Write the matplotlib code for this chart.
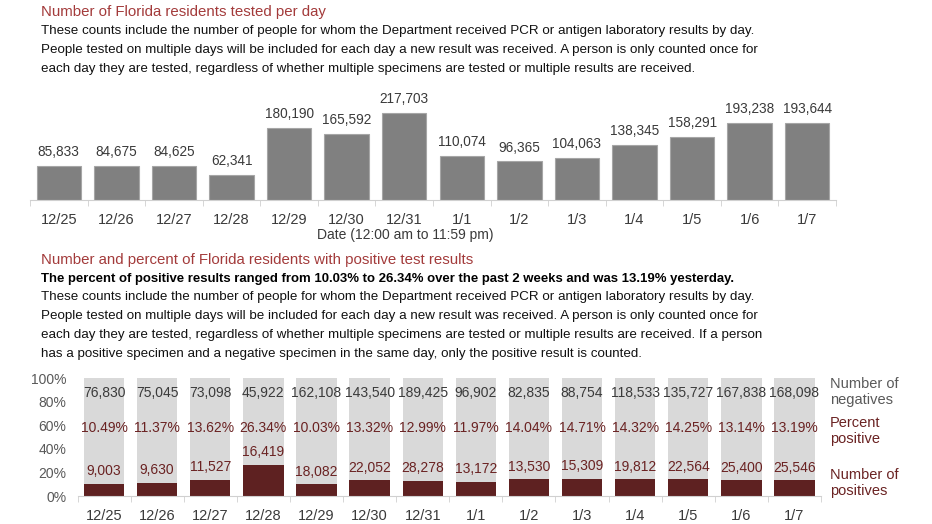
import numpy as np
import matplotlib
matplotlib.use('Agg')
import matplotlib.pyplot as plt

plt.rcParams['font.family'] = ['Liberation Sans Narrow', 'Liberation Sans', 'DejaVu Sans']

dates = ['12/25', '12/26', '12/27', '12/28', '12/29', '12/30', '12/31',
         '1/1', '1/2', '1/3', '1/4', '1/5', '1/6', '1/7']
tested = [85833, 84675, 84625, 62341, 180190, 165592, 217703,
          110074, 96365, 104063, 138345, 158291, 193238, 193644]
negatives = [76830, 75045, 73098, 45922, 162108, 143540, 189425,
             96902, 82835, 88754, 118533, 135727, 167838, 168098]
positives = [9003, 9630, 11527, 16419, 18082, 22052, 28278,
             13172, 13530, 15309, 19812, 22564, 25400, 25546]
pct_positive = [10.49, 11.37, 13.62, 26.34, 10.03, 13.32, 12.99,
                11.97, 14.04, 14.71, 14.32, 14.25, 13.14, 13.19]

W, H = 932, 524
RED_TITLE = '#A33B3B'
DARK_RED = '#5E2121'
LABEL_RED = '#6A2222'
GRAY_TXT = '#3A3A3A'

def fx(x):
    return x / W

def fy(y):
    return 1 - y / H

fig = plt.figure(figsize=(W / 100, H / 100), dpi=100)

body_font = ['Liberation Sans', 'DejaVu Sans']

# ---- top text block
fig.text(fx(41), fy(12), 'Number of Florida residents tested per day', color=RED_TITLE,
         fontsize=10.8, family=body_font, va='center')
top_lines = [
    'These counts include the number of people for whom the Department received PCR or antigen laboratory results by day.',
    'People tested on multiple days will be included for each day a new result was received. A person is only counted once for',
    'each day they are tested, regardless of whether multiple specimens are tested or multiple results are received.',
]
for i, line in enumerate(top_lines):
    fig.text(fx(41), fy(31 + 19 * i), line, fontsize=9.6, family=body_font, va='center', color='#111111')

# ---- top chart
x = np.arange(len(dates))
ax1 = fig.add_axes([fx(30), fy(200), fx(836) - fx(30), (200 - 96) / H])
ax1.bar(x, tested, width=0.77, color='#808080', edgecolor='#A6A6A6', linewidth=0.8)
for xi, v in zip(x, tested):
    ax1.annotate(f'{v:,}', (xi, v), xytext=(0, 5), textcoords='offset points',
                 ha='center', va='bottom', fontsize=9.8, color=GRAY_TXT)
ax1.set_xlim(-0.5, len(dates) - 0.5)
ax1.set_ylim(0, 260000)
ax1.set_yticks([])
for s in ['top', 'right', 'left']:
    ax1.spines[s].set_visible(False)
ax1.spines['bottom'].set_color('#D0D0D0')
ax1.set_xticks(x)
ax1.set_xticklabels(dates, fontsize=10.5, color=GRAY_TXT)
ax1.tick_params(axis='x', length=0, pad=9)
ax1.set_xticks(np.arange(-0.5, len(dates)), minor=True)
ax1.tick_params(axis='x', which='minor', length=4, color='#D0D0D0')
fig.text(fx(405), fy(235), 'Date (12:00 am to 11:59 pm)', fontsize=10, color=GRAY_TXT,
         ha='center', va='center')

# ---- bottom text block
fig.text(fx(41), fy(260), 'Number and percent of Florida residents with positive test results',
         color=RED_TITLE, fontsize=10.8, family=body_font, va='center')
fig.text(fx(41), fy(279),
         'The percent of positive results ranged from 10.03% to 26.34% over the past 2 weeks and was 13.19% yesterday.',
         fontsize=9.45, fontweight='bold', family=body_font, va='center', color='black')
bottom_lines = [
    'These counts include the number of people for whom the Department received PCR or antigen laboratory results by day.',
    'People tested on multiple days will be included for each day a new result was received. A person is only counted once for',
    'each day they are tested, regardless of whether multiple specimens are tested or multiple results are received. If a person',
    'has a positive specimen and a negative specimen in the same day, only the positive result is counted.',
]
for i, line in enumerate(bottom_lines):
    fig.text(fx(41), fy(297 + 19 * i), line, fontsize=9.6, family=body_font, va='center', color='#111111')

# ---- bottom chart
ax2 = fig.add_axes([fx(77.5), fy(496), fx(821) - fx(77.5), 118 / H])
pct = np.array(pct_positive) / 100
ax2.bar(x, np.ones(len(x)), width=0.76, color='#D9D9D9')
ax2.bar(x, pct, width=0.76, color=DARK_RED)
for xi, n, p, pos in zip(x, negatives, pct, positives):
    ax2.text(xi, 0.87, f'{n:,}', ha='center', va='center', fontsize=10, color=GRAY_TXT)
    ax2.text(xi, 0.575, f'{p * 100:.2f}%', ha='center', va='center', fontsize=10, color=LABEL_RED)
    ax2.annotate(f'{pos:,}', (xi, p), xytext=(0, 4), textcoords='offset points',
                 ha='center', va='bottom', fontsize=10, color=LABEL_RED)
ax2.set_xlim(-0.5, len(dates) - 0.5)
ax2.set_ylim(0, 1)
ax2.set_yticks(np.linspace(0, 1, 6))
ax2.set_yticklabels([f'{int(t * 100)}%' for t in np.linspace(0, 1, 6)], fontsize=10, color='#595959')
ax2.tick_params(axis='y', length=0, pad=8)
for s in ['top', 'right', 'left']:
    ax2.spines[s].set_visible(False)
ax2.spines['bottom'].set_color('#D0D0D0')
ax2.set_xticks(x)
ax2.set_xticklabels(dates, fontsize=10.5, color=GRAY_TXT)
ax2.tick_params(axis='x', length=0, pad=9)
ax2.set_xticks(np.arange(-0.5, len(dates)), minor=True)
ax2.tick_params(axis='x', which='minor', length=4, color='#D0D0D0')

fig.text(fx(830), fy(392), 'Number of\nnegatives', fontsize=10.5, color='#595959',
         va='center', linespacing=1.1, family=body_font)
fig.text(fx(830), fy(431), 'Percent\npositive', fontsize=10.5, color=LABEL_RED,
         va='center', linespacing=1.1, family=body_font)
fig.text(fx(830), fy(483), 'Number of\npositives', fontsize=10.5, color=LABEL_RED,
         va='center', linespacing=1.1, family=body_font)

fig.savefig('out.png', dpi=100, facecolor='white')
